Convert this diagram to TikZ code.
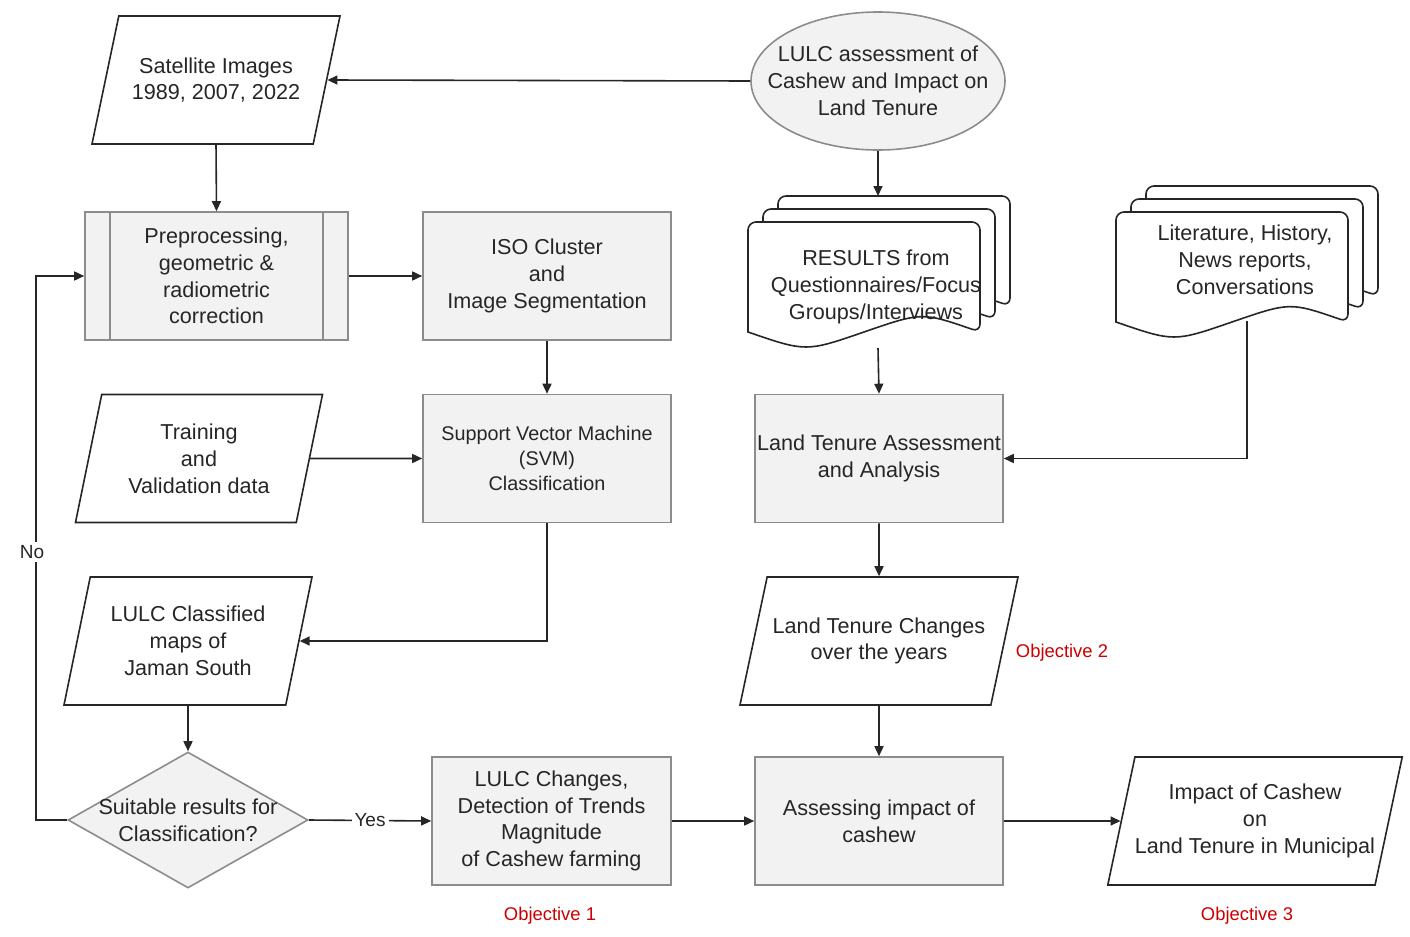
\documentclass[tikz,border=0pt]{standalone}
\usepackage{fontspec}
\setmainfont{Liberation Sans}
\usetikzlibrary{shapes.geometric, arrows.meta}
\colorlet{boxfill}{black!5}
\colorlet{boxline}{black!45}
\colorlet{inkline}{black!85}
\colorlet{objred}{red!80!black}
\tikzset{
	txt/.style={align=center, text=black!85, font=\fontsize{10.8}{13.4}\selectfont},
	smalltxt/.style={align=center, text=black!85, font=\fontsize{9.9}{12.4}\selectfont},
	process/.style={draw=boxline, fill=boxfill, line width=0.8pt, minimum height=64pt, inner sep=0pt},
	slanted/.style={trapezium, trapezium left angle=78, trapezium right angle=102, trapezium stretches body=true, draw=inkline, fill=white, line width=0.8pt, minimum height=64pt, inner xsep=0pt},
	twolines/.style={inner ysep=20.2pt},
	threelines/.style={inner ysep=13.5pt},
	goal/.style={ellipse, draw=boxline, fill=boxfill, line width=0.8pt, minimum width=127pt, minimum height=69pt, inner sep=0pt},
	decision/.style={diamond, aspect=1.76, draw=boxline, fill=boxfill, line width=0.8pt, minimum width=120pt, minimum height=68pt, inner sep=0pt},
	docline/.style={draw=inkline, fill=white, line width=0.8pt},
	arr/.style={-{Triangle[length=5pt,width=4.5pt]}, draw=inkline, line width=0.8pt},
	lbl/.style={fill=white, text=black!85, font=\fontsize{9.5}{11}\selectfont, inner sep=1.5pt},
	objective/.style={text=objred, font=\fontsize{9.2}{11}\selectfont}
}
% one sheet of a document stack, top left corner at (#1,#2)
\newcommand{\docsheet}[2]{\draw[docline] (#1,#2+110) [rounded corners=4pt] -- (#1,#2) -- (#1+232,#2) -- (#1+232,#2+110) [sharp corners] .. controls (#1+174,#2+90) .. (#1+116,#2+110) .. controls (#1+58,#2+130) .. (#1,#2+110) -- cycle;}
\newcommand{\docstack}[2]{\docsheet{#1+30}{#2-26}\docsheet{#1+15}{#2-13}\docsheet{#1}{#2}}

\begin{document}
\begin{tikzpicture}[x=0.5pt, y=-0.5pt]
	\useasboundingbox (0,0) rectangle (1410,937);

	\node[goal, label={[txt]center:{LULC assessment of\\Cashew and Impact on\\Land Tenure}}] (goal) at (878,81) {};
	\node[slanted, twolines, txt, minimum width=124pt] (sat) at (216,80) {Satellite Images\\1989, 2007, 2022};

	\node[process, txt, minimum width=131.5pt] (pre) at (216.5,276) {Preprocessing,\\geometric \&\\radiometric\\correction};
	\draw[draw=boxline, line width=0.8pt] ([xshift=13pt]pre.north west) -- ([xshift=13pt]pre.south west);
	\draw[draw=boxline, line width=0.8pt] ([xshift=-13pt]pre.north east) -- ([xshift=-13pt]pre.south east);
	\node[process, txt, minimum width=124pt] (iso) at (547,276) {ISO Cluster\\and\\Image Segmentation};
	\node[process, smalltxt, minimum width=124pt] (svm) at (547,458.5) {Support Vector Machine\\(SVM)\\Classification};
	\node[slanted, threelines, txt, minimum width=123.5pt] (train) at (199,458.5) {Training\\and\\Validation data};
	\node[slanted, threelines, txt, minimum width=124pt] (map) at (188,641) {LULC Classified\\maps of\\Jaman South};
	\node[decision, label={[txt]center:{Suitable results for\\Classification?}}] (dia) at (188,820) {};
	\node[process, txt, minimum width=119.5pt] (chg) at (551.5,821) {LULC Changes,\\Detection of Trends\\Magnitude\\of Cashew farming};
	\node[process, txt, minimum width=124pt] (ass) at (879,821) {Assessing impact of\\cashew};
	\node[slanted, threelines, txt, minimum width=147pt] (imp) at (1255,821) {Impact of Cashew\\on\\Land Tenure in Municipal};

	\docstack{748}{222}
	\node[txt] (res) at (876,287) {RESULTS from\\Questionnaires/Focus\\Groups/Interviews};
	\docstack{1116}{212}
	\node[txt] (lit) at (1245,260) {Literature, History,\\News reports,\\Conversations};
	\node[process, txt, minimum width=124pt] (lta) at (879,458.5) {Land Tenure Assessment\\and Analysis};
	\node[slanted, twolines, txt, minimum width=139pt] (ltc) at (879,641) {Land Tenure Changes\\over the years};

	\coordinate (restop) at (878,196);
	\coordinate (resbot) at (878,348);
	\coordinate (litbot) at (1247,321);
	\coordinate (nobend) at (36,552);

	\draw[arr] (goal.west) -- (sat.east);
	\draw[arr] (sat.south) -- (pre.north);
	\draw[arr] (pre.east) -- (iso.west);
	\draw[arr] (iso.south) -- (svm.north);
	\draw[arr] (train.east) -- (svm.west);
	\draw[arr] (svm.south) |- (map.east);
	\draw[arr] (map.south) -- (dia.north);
	\draw[arr] (dia.west) -| (nobend) |- (pre.west);
	\node[lbl] (no) at (32,552) {No};
	\draw[arr] (dia.east) -- (chg.west) node[lbl, pos=0.5] (yes) {Yes};
	\draw[arr] (chg.east) -- (ass.west);
	\draw[arr] (ass.east) -- (imp.west);
	\draw[arr] (goal.south) -- (restop);
	\draw[arr] (resbot) -- (lta.north);
	\draw[arr] (litbot) |- (lta.east);
	\draw[arr] (lta.south) -- (ltc.north);
	\draw[arr] (ltc.south) -- (ass.north);

	\node[objective] (obj1) at (550,916) {Objective 1};
	\node[objective] (obj2) at (1062,653) {Objective 2};
	\node[objective] (obj3) at (1247,916) {Objective 3};
\end{tikzpicture}
\end{document}
